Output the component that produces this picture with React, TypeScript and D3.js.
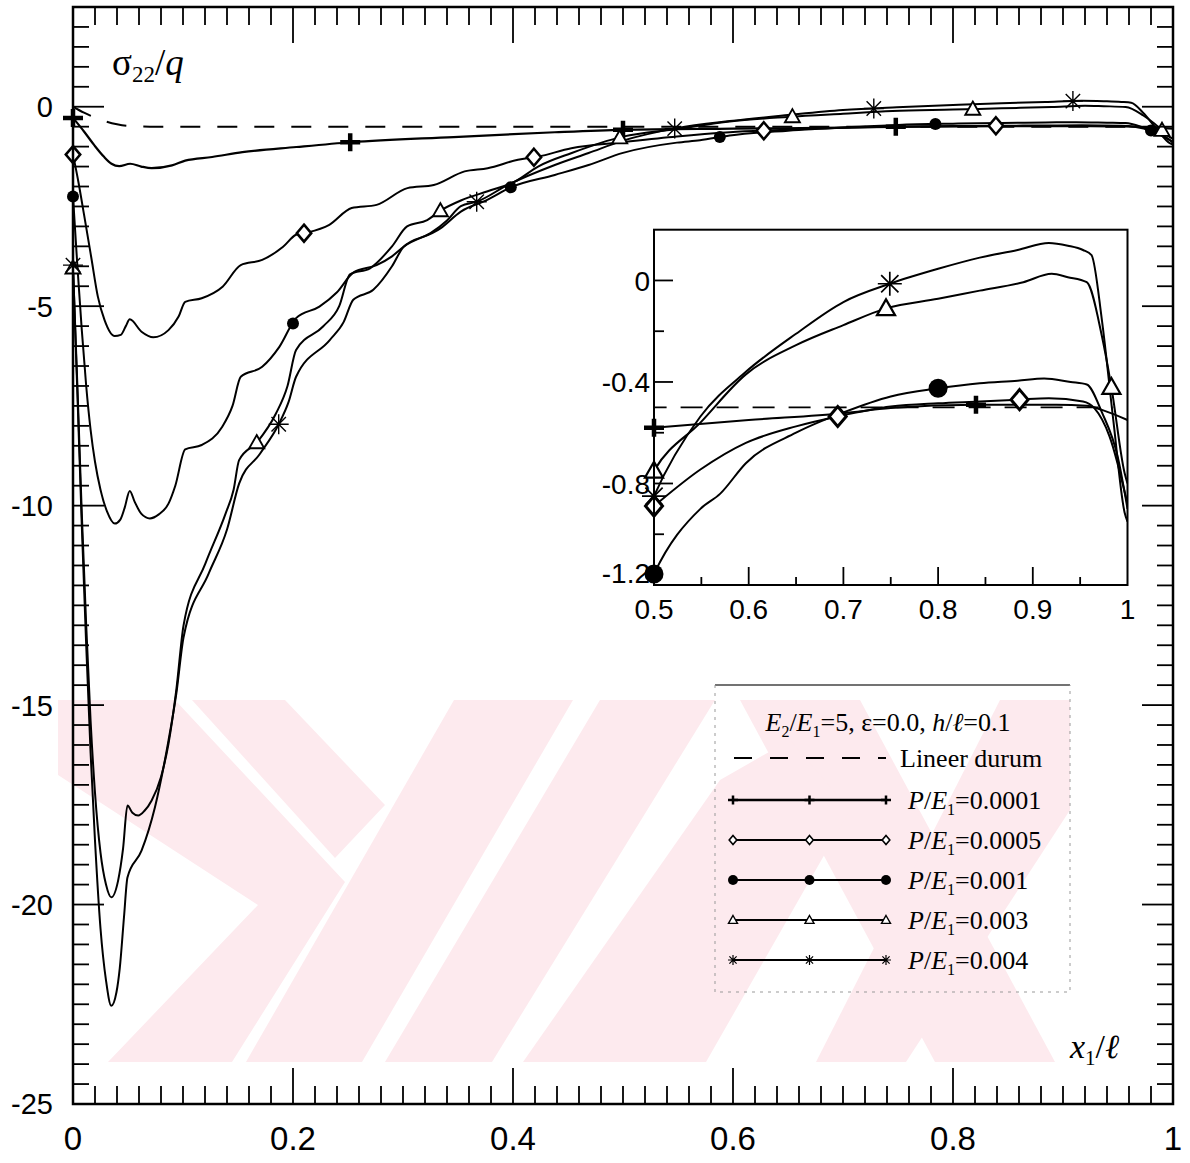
import React, { useEffect, useRef } from "react";
import * as d3 from "d3";

type Pt = [number, number];

// ---- data: normal stress sigma22/q along the contact, x1/l in [0, 1] ----
const linearCase: Pt[] = [
  [0, 0], [0.01, -0.15], [0.02, -0.27], [0.03, -0.37], [0.04, -0.44], [0.05, -0.48],
  [0.07, -0.5], [0.3, -0.5], [0.6, -0.5], [0.985, -0.5],
];

const loadP0001: Pt[] = [
  [0, -0.28], [0.01, -0.62], [0.0195, -0.97], [0.028, -1.25], [0.035, -1.43], [0.042, -1.49],
  [0.052, -1.43], [0.062, -1.5], [0.0715, -1.54], [0.09, -1.47], [0.102, -1.35], [0.1265, -1.26],
  [0.154, -1.14], [0.203, -1.01], [0.253, -0.89], [0.346, -0.76], [0.438, -0.64], [0.5, -0.58],
  [0.6, -0.55], [0.7, -0.523], [0.75, -0.503], [0.84, -0.49], [0.925, -0.49], [0.957, -0.494],
  [0.973, -0.51], [1.0, -0.55],
];

const loadP0005: Pt[] = [
  [0, -1.2], [0.005, -1.9], [0.01, -2.7], [0.0165, -3.76], [0.0226, -4.76], [0.0287, -5.35],
  [0.0379, -5.75], [0.0434, -5.72], [0.048, -5.5], [0.0516, -5.33], [0.0623, -5.64], [0.073, -5.78],
  [0.0868, -5.6], [0.096, -5.26], [0.102, -4.89], [0.117, -4.8], [0.136, -4.51], [0.1525, -3.97],
  [0.172, -3.84], [0.191, -3.51], [0.2028, -3.21], [0.2136, -3.15], [0.233, -2.96], [0.2533, -2.54],
  [0.276, -2.46], [0.304, -2.04], [0.328, -1.96], [0.356, -1.62], [0.377, -1.54], [0.4045, -1.33],
  [0.4229, -1.25], [0.453, -1.04], [0.5, -0.889], [0.549, -0.745], [0.597, -0.64], [0.65, -0.575],
  [0.694, -0.536], [0.75, -0.497], [0.8, -0.484], [0.844, -0.477], [0.884, -0.47], [0.917, -0.464],
  [0.953, -0.477], [0.965, -0.503], [0.981, -0.614], [1.0, -0.88],
];

const loadP001: Pt[] = [
  [0, -2.25], [0.004, -4.0], [0.008, -5.6], [0.012, -7.0], [0.016, -8.1], [0.02, -8.9],
  [0.025, -9.6], [0.031, -10.15], [0.038, -10.45], [0.043, -10.35], [0.047, -10.05], [0.0516, -9.63],
  [0.056, -9.9], [0.062, -10.2], [0.0699, -10.32], [0.078, -10.22], [0.0868, -9.95], [0.093, -9.5],
  [0.102, -8.59], [0.117, -8.48], [0.1357, -8.02], [0.145, -7.5], [0.1525, -6.77], [0.172, -6.52],
  [0.1876, -6.02], [0.2028, -5.3], [0.224, -5.01], [0.24, -4.65], [0.2548, -4.16], [0.276, -3.97],
  [0.29, -3.75], [0.3006, -3.51], [0.334, -3.05], [0.3526, -2.63], [0.377, -2.33], [0.398, -2.02],
  [0.438, -1.71], [0.4687, -1.46], [0.5, -1.157], [0.549, -0.9], [0.57, -0.84], [0.597, -0.72],
  [0.65, -0.6], [0.7, -0.52], [0.75, -0.457], [0.8, -0.425], [0.844, -0.405], [0.884, -0.395],
  [0.912, -0.386], [0.94, -0.4], [0.957, -0.41], [0.973, -0.52], [0.99, -0.7], [1.0, -0.9],
];

const loadP003: Pt[] = [
  [0, -4.04], [0.004, -7], [0.008, -10.2], [0.012, -13], [0.016, -15.4], [0.02, -17.2],
  [0.025, -18.7], [0.03, -19.5], [0.0348, -19.82], [0.041, -19.4], [0.0455, -18.6], [0.0495, -17.52],
  [0.054, -17.7], [0.0593, -17.77], [0.065, -17.65], [0.0715, -17.39], [0.08, -16.8], [0.0868, -15.97],
  [0.094, -14.6], [0.1005, -13.0], [0.1204, -11.45], [0.1387, -10.2], [0.146, -9.6], [0.151, -8.86],
  [0.1677, -8.4], [0.1845, -7.69], [0.195, -7.0], [0.2028, -6.1], [0.2273, -5.51], [0.242, -5.0],
  [0.2518, -4.2], [0.27, -4.05], [0.29, -3.5], [0.3037, -3.0], [0.322, -2.84], [0.3343, -2.6],
  [0.3526, -2.35], [0.377, -2.12], [0.4015, -1.88], [0.4228, -1.5], [0.4534, -1.16], [0.5, -0.75],
  [0.549, -0.56], [0.597, -0.37], [0.65, -0.255], [0.7, -0.176], [0.745, -0.11], [0.8, -0.072],
  [0.844, -0.04], [0.89, -0.007], [0.92, 0.026], [0.937, 0.013], [0.957, -0.007], [0.973, -0.22],
  [0.983, -0.42], [0.997, -0.76], [1.0, -0.8],
];

const loadP004: Pt[] = [
  [0, -3.97], [0.004, -7.2], [0.008, -10.5], [0.012, -13.5], [0.016, -16.2], [0.02, -18.4],
  [0.025, -20.6], [0.03, -21.9], [0.0348, -22.54], [0.0395, -22.2], [0.0425, -21.6], [0.0464, -20.3],
  [0.0495, -19.32], [0.0623, -18.65], [0.0745, -17.56], [0.0868, -15.89], [0.094, -14.7], [0.1005, -13.3],
  [0.1234, -11.7], [0.14, -10.6], [0.151, -9.45], [0.17, -8.7], [0.187, -7.96], [0.196, -7.4],
  [0.2028, -6.77], [0.2334, -5.85], [0.246, -5.4], [0.2548, -4.84], [0.273, -4.59], [0.29, -4.0],
  [0.3006, -3.51], [0.325, -3.17], [0.34, -2.85], [0.3526, -2.49], [0.3672, -2.38], [0.3953, -1.96],
  [0.438, -1.46], [0.4687, -1.16], [0.5, -0.85], [0.549, -0.536], [0.597, -0.36], [0.65, -0.21],
  [0.7, -0.085], [0.749, -0.013], [0.8, 0.046], [0.844, 0.09], [0.884, 0.12], [0.917, 0.148],
  [0.937, 0.137], [0.953, 0.12], [0.962, 0.1], [0.973, -0.157], [0.985, -0.55], [0.997, -0.915],
  [1.0, -0.95],
];

// symbol positions (x1/l) along each curve
const marksMainP0001 = [0, 0.252, 0.5, 0.748];
const marksMainP0005 = [0, 0.21, 0.419, 0.628, 0.839];
const marksMainP001 = [0, 0.2, 0.398, 0.588, 0.784, 0.98];
const marksMainP003 = [0, 0.167, 0.334, 0.497, 0.654, 0.818, 0.99];
const marksMainP004 = [0, 0.187, 0.367, 0.547, 0.728, 0.909];

const marksInsetP0001 = [0.5, 0.84];
const marksInsetP0005 = [0.5, 0.694, 0.886];
const marksInsetP001 = [0.5, 0.8];
const marksInsetP003 = [0.5, 0.745, 0.983];
const marksInsetP004 = [0.5, 0.749];

const legendLoads = ["0.0001", "0.0005", "0.001", "0.003", "0.004"];

const xTickLabels = [0, 0.2, 0.4, 0.6, 0.8, 1];
const yTickLabels = [0, -5, -10, -15, -20, -25];
const insetXTickLabels = [0.5, 0.6, 0.7, 0.8, 0.9, 1];
const insetYTickLabels = [0, -0.4, -0.8, -1.2];

type Kind = "plus" | "diamond" | "circle" | "triangle" | "star";

const SANS = "'Liberation Sans', Arial, sans-serif";
const SERIF = "'Liberation Serif', 'Times New Roman', serif";
const WM = "#fdeaee";

function interp(s: Pt[], xv: number): number {
  for (let i = 0; i < s.length - 1; i++) {
    const [x0, y0] = s[i];
    const [x1, y1] = s[i + 1];
    if (xv >= x0 && xv <= x1) return y0 + ((y1 - y0) * (xv - x0)) / (x1 - x0 || 1);
  }
  return s[s.length - 1][1];
}

function marker(g: any, kind: Kind, cx: number, cy: number, s: number) {
  if (kind === "plus") {
    g.append("path")
      .attr("d", `M${cx - s},${cy}H${cx + s}M${cx},${cy - s * 0.9}V${cy + s * 0.9}`)
      .attr("stroke", "#000").attr("stroke-width", Math.max(2.5, s * 0.45)).attr("fill", "none");
  } else if (kind === "diamond") {
    g.append("path")
      .attr("d", `M${cx},${cy - s}L${cx + s * 0.85},${cy}L${cx},${cy + s}L${cx - s * 0.85},${cy}Z`)
      .attr("fill", "#fff").attr("stroke", "#000").attr("stroke-width", Math.max(1.6, s * 0.3));
  } else if (kind === "circle") {
    g.append("circle").attr("cx", cx).attr("cy", cy).attr("r", s).attr("fill", "#000");
  } else if (kind === "triangle") {
    g.append("path")
      .attr("d", `M${cx},${cy - s}L${cx + s},${cy + s * 0.75}L${cx - s},${cy + s * 0.75}Z`)
      .attr("fill", "#fff").attr("stroke", "#000").attr("stroke-width", Math.max(1.4, s * 0.25));
  } else {
    const d = s * 0.72;
    g.append("path")
      .attr("d", `M${cx},${cy - s}V${cy + s}M${cx - s},${cy}H${cx + s}M${cx - d},${cy - d}L${cx + d},${cy + d}M${cx - d},${cy + d}L${cx + d},${cy - d}`)
      .attr("stroke", "#000").attr("stroke-width", Math.max(1.2, s * 0.14)).attr("fill", "none");
  }
}

// light background emblem drawn beneath the plot
const emblem: [number, number][][] = [
  [[58, 700], [175, 700], [345, 882], [232, 1062], [108, 1062], [258, 905], [58, 775]],
  [[192, 700], [285, 700], [385, 805], [335, 858]],
  [[454, 700], [573, 700], [362, 1062], [246, 1062]],
  [[600, 700], [715, 700], [492, 1062], [385, 1062]],
  [[740, 700], [860, 700], [1055, 1062], [935, 1062]],
  [[523, 1062], [706, 1062], [850, 810], [790, 740], [720, 780]],
  [[1000, 700], [1070, 700], [1070, 810], [906, 1062], [816, 1062]],
];

export default function App() {
  const ref = useRef<SVGSVGElement>(null);

  useEffect(() => {
    const svg = d3.select(ref.current);
    svg.selectAll("*").remove();

    const series: { data: Pt[]; kind: Kind; main: number[]; inset: number[]; w: number }[] = [
      { data: loadP0001, kind: "plus", main: marksMainP0001, inset: marksInsetP0001, w: 2.2 },
      { data: loadP0005, kind: "diamond", main: marksMainP0005, inset: marksInsetP0005, w: 2 },
      { data: loadP001, kind: "circle", main: marksMainP001, inset: marksInsetP001, w: 2 },
      { data: loadP003, kind: "triangle", main: marksMainP003, inset: marksInsetP003, w: 2 },
      { data: loadP004, kind: "star", main: marksMainP004, inset: marksInsetP004, w: 2 },
    ];

    svg.append("rect").attr("width", 1190).attr("height", 1163).attr("fill", "#fff");

    // emblem
    const wm = svg.append("g");
    emblem.forEach((poly) =>
      wm.append("path").attr("d", "M" + poly.map((p) => p.join(",")).join("L") + "Z").attr("fill", WM)
    );

    // ---------- main plot ----------
    const x = d3.scaleLinear().domain([0, 1]).range([73, 1173]);
    const y = d3.scaleLinear().domain([-25, 2.5]).range([1104, 7]);
    const [L, R] = x.range();
    const B = y(-25), T = y(2.5);

    const defs = svg.append("defs");
    defs.append("clipPath").attr("id", "clipMain")
      .append("rect").attr("x", L).attr("y", T).attr("width", R - L).attr("height", B - T);

    const line = d3.line<Pt>().x((d) => x(d[0])).y((d) => y(d[1])).curve(d3.curveMonotoneX);

    const plot = svg.append("g").attr("clip-path", "url(#clipMain)");
    plot.append("path").attr("d", line(linearCase))
      .attr("fill", "none").attr("stroke", "#000").attr("stroke-width", 2).attr("stroke-dasharray", "20,17");
    series.forEach((s) => {
      plot.append("path").attr("d", line(s.data))
        .attr("fill", "none").attr("stroke", "#000").attr("stroke-width", s.w);
    });
    const msz: Record<Kind, number> = { plus: 10, diamond: 8.5, circle: 6, triangle: 7.5, star: 10 };
    series.forEach((s) => {
      s.main.forEach((xv) => marker(svg, s.kind, x(xv), y(interp(s.data, xv)), msz[s.kind]));
    });

    // frame and ticks
    const ax = svg.append("g").attr("stroke", "#000").attr("fill", "none");
    d3.range(1, 50).forEach((i) => {
      const xv = i / 50;
      const len = i % 10 === 0 ? 36 : 18;
      ax.append("line").attr("x1", x(xv)).attr("x2", x(xv)).attr("y1", B).attr("y2", B - len).attr("stroke-width", 1.8);
      ax.append("line").attr("x1", x(xv)).attr("x2", x(xv)).attr("y1", T).attr("y2", T + len).attr("stroke-width", 1.8);
    });
    d3.range(1, 55).forEach((i) => {
      const yv = -25 + i * 0.5;
      const major = i % 10 === 0;
      const len = major ? 31 : 16;
      ax.append("line").attr("x1", L).attr("x2", L + len).attr("y1", y(yv)).attr("y2", y(yv)).attr("stroke-width", 1.8);
      ax.append("line").attr("x1", R).attr("x2", R - len).attr("y1", y(yv)).attr("y2", y(yv)).attr("stroke-width", 1.8);
    });
    ax.append("rect").attr("x", L).attr("y", T).attr("width", R - L).attr("height", B - T).attr("stroke-width", 2.5);

    const tl = svg.append("g").attr("font-family", SANS).attr("fill", "#000");
    xTickLabels.forEach((v) =>
      tl.append("text").attr("x", x(v)).attr("y", 1150).attr("text-anchor", "middle").attr("font-size", 33).text(String(v))
    );
    yTickLabels.forEach((v) =>
      tl.append("text").attr("x", 53).attr("y", y(v)).attr("dy", "0.36em").attr("text-anchor", "end").attr("font-size", 29).text(String(v))
    );

    // axis titles
    const yt = svg.append("text").attr("x", 112).attr("y", 75).attr("font-family", SERIF).attr("font-size", 37);
    yt.append("tspan").text("σ");
    yt.append("tspan").attr("font-size", 23).attr("dy", 7).text("22");
    yt.append("tspan").attr("dy", -7).text("/");
    yt.append("tspan").attr("font-style", "italic").text("q");

    const xt = svg.append("text").attr("x", 1070).attr("y", 1058).attr("font-family", SERIF).attr("font-size", 34);
    xt.append("tspan").attr("font-style", "italic").text("x");
    xt.append("tspan").attr("font-size", 21).attr("dy", 7).text("1");
    xt.append("tspan").attr("dy", -7).text("/");
    xt.append("tspan").attr("font-style", "italic").text("ℓ");

    // ---------- legend ----------
    const lg = svg.append("g");
    lg.append("line").attr("x1", 715).attr("x2", 1070).attr("y1", 685).attr("y2", 685).attr("stroke", "#444").attr("stroke-width", 1.5);
    lg.append("path").attr("d", "M715,685V992H1070V685").attr("fill", "none")
      .attr("stroke", "#999").attr("stroke-width", 1).attr("stroke-dasharray", "3,5");

    const lt = (xx: number, yy: number) =>
      lg.append("text").attr("x", xx).attr("y", yy).attr("font-family", SERIF).attr("font-size", 26).attr("fill", "#000");

    const hd = lt(888, 731).attr("text-anchor", "middle");
    hd.append("tspan").attr("font-style", "italic").text("E");
    hd.append("tspan").attr("font-size", 16).attr("dy", 6).text("2");
    hd.append("tspan").attr("dy", -6).text("/");
    hd.append("tspan").attr("font-style", "italic").text("E");
    hd.append("tspan").attr("font-size", 16).attr("dy", 6).text("1");
    hd.append("tspan").attr("dy", -6).text("=5, ε=0.0, ");
    hd.append("tspan").attr("font-style", "italic").text("h");
    hd.append("tspan").text("/");
    hd.append("tspan").attr("font-style", "italic").text("ℓ");
    hd.append("tspan").text("=0.1");

    lg.append("line").attr("x1", 734).attr("x2", 886).attr("y1", 758).attr("y2", 758)
      .attr("stroke", "#000").attr("stroke-width", 2).attr("stroke-dasharray", "18,18");
    lt(900, 767).text("Lineer durum");

    const lsz: Record<Kind, number> = { plus: 5, diamond: 4.5, circle: 5, triangle: 4.5, star: 5 };
    series.forEach((s, i) => {
      const yy = 800 + 40 * i;
      lg.append("line").attr("x1", 733).attr("x2", 886).attr("y1", yy).attr("y2", yy)
        .attr("stroke", "#000").attr("stroke-width", i === 0 ? 2.4 : 1.8);
      [733, 809.5, 886].forEach((mx) => marker(lg, s.kind, mx, yy, lsz[s.kind]));
      const t = lt(908, yy + 9);
      t.append("tspan").attr("font-style", "italic").text("P");
      t.append("tspan").text("/");
      t.append("tspan").attr("font-style", "italic").text("E");
      t.append("tspan").attr("font-size", 16).attr("dy", 6).text("1");
      t.append("tspan").attr("dy", -6).text("=" + legendLoads[i]);
    });

    // ---------- inset ----------
    const xi = d3.scaleLinear().domain([0.5, 1]).range([654, 1127.5]);
    const yi = d3.scaleLinear().domain([-1.2, 0.2]).range([585, 229.7]);
    const [iL, iR] = xi.range();
    const iB = yi(-1.2), iT = yi(0.2);

    svg.append("rect").attr("x", iL).attr("y", iT).attr("width", iR - iL).attr("height", iB - iT).attr("fill", "#fff");
    defs.append("clipPath").attr("id", "clipInset")
      .append("rect").attr("x", iL).attr("y", iT).attr("width", iR - iL).attr("height", iB - iT);

    const iline = d3.line<Pt>().x((d) => xi(d[0])).y((d) => yi(d[1])).curve(d3.curveMonotoneX);
    const ip = svg.append("g").attr("clip-path", "url(#clipInset)");
    ip.append("path").attr("d", iline(linearCase.filter((d) => d[0] >= 0.3)))
      .attr("fill", "none").attr("stroke", "#000").attr("stroke-width", 1.8).attr("stroke-dasharray", "22,14");
    series.forEach((s) => {
      ip.append("path").attr("d", iline(s.data.filter((d) => d[0] >= 0.45)))
        .attr("fill", "none").attr("stroke", "#000").attr("stroke-width", 2);
    });
    const isz: Record<Kind, number> = { plus: 10, diamond: 10, circle: 9.5, triangle: 9, star: 12 };
    series.forEach((s) => {
      s.inset.forEach((xv) => marker(svg, s.kind, xi(xv), yi(interp(s.data, xv)), isz[s.kind]));
    });

    const ia = svg.append("g").attr("stroke", "#000");
    d3.range(1, 10).forEach((i) => {
      const xv = 0.5 + i * 0.05;
      const len = i % 2 === 0 ? 18 : 8;
      ia.append("line").attr("x1", xi(xv)).attr("x2", xi(xv)).attr("y1", iB).attr("y2", iB - len).attr("stroke-width", 1.8);
    });
    d3.range(1, 7).forEach((i) => {
      const yv = -1.2 + i * 0.2;
      const len = i % 2 === 0 ? 19 : 10;
      ia.append("line").attr("x1", iL).attr("x2", iL + len).attr("y1", yi(yv)).attr("y2", yi(yv)).attr("stroke-width", 1.8);
    });
    ia.append("rect").attr("x", iL).attr("y", iT).attr("width", iR - iL).attr("height", iB - iT)
      .attr("fill", "none").attr("stroke-width", 2);

    const itl = svg.append("g").attr("font-family", SANS).attr("font-size", 28).attr("fill", "#000");
    insetXTickLabels.forEach((v) =>
      itl.append("text").attr("x", xi(v)).attr("y", 619).attr("text-anchor", "middle").text(String(v))
    );
    insetYTickLabels.forEach((v, i) =>
      itl.append("text").attr("x", 650).attr("y", yi(v) - (i === insetYTickLabels.length - 1 ? 12 : 0))
        .attr("dy", "0.36em").attr("text-anchor", "end").text(String(v))
    );
  }, []);

  return (
    <svg
      ref={ref}
      width={1190}
      height={1163}
      style={{ position: "absolute", left: 0, top: 0, display: "block" }}
    />
  );
}
